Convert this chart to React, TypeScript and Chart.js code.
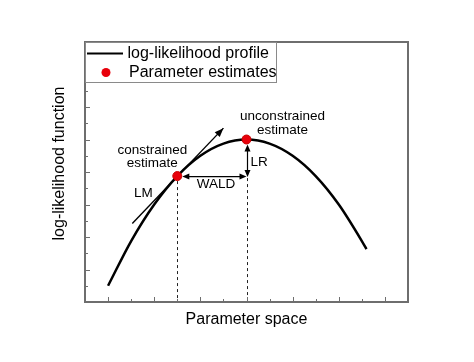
import React, { useEffect, useRef } from "react";
import { Chart, registerables } from "chart.js";
Chart.register(...registerables);

// ---- data ----
const paramX = [0, 1, 2, 3, 4, 5, 6, 7, 8, 9, 10, 11, 11.2];
const logLik = [1.0, 3.75, 6.0, 7.75, 9.0, 9.75, 10.0, 9.75, 9.0, 7.75, 6.0, 3.75, 3.25];
const estimateX = [3, 6];
const estimateY = [7.75, 10.0];
const tangentX = [1.05, 5.0];
const tangentY = [4.83, 10.7];
const xRange = [-1, 13];
const yRange = [0, 16];
const legendLabels = ["log-likelihood profile", "Parameter estimates"];
const xTitle = "Parameter space";
const yTitle = "log-likelihood function";
const labelConstrained = ["constrained", "estimate"];
const labelUnconstrained = ["unconstrained", "estimate"];
const labelLM = "LM";
const labelWald = "WALD";
const labelLR = "LR";

const FONT = "'Liberation Sans', Arial, Helvetica, sans-serif";
const AXIS_COLOR = "#6e6e6e";
const RED = "#e8000b";

function arrowHead(ctx: CanvasRenderingContext2D, tx: number, ty: number, angle: number, len: number, hw: number) {
  ctx.save();
  ctx.translate(tx, ty);
  ctx.rotate(angle);
  ctx.beginPath();
  ctx.moveTo(0, 0);
  ctx.lineTo(-len, -hw);
  ctx.lineTo(-len, hw);
  ctx.closePath();
  ctx.fill();
  ctx.restore();
}

const overlay = {
  id: "overlay",
  beforeDatasetsDraw(chart: any) {
    const { ctx, scales, chartArea: a } = chart;
    const x = scales.x, y = scales.y;
    const px = (v: number) => x.getPixelForValue(v);
    const py = (v: number) => y.getPixelForValue(v);
    ctx.save();
    // dashed drop lines
    ctx.strokeStyle = "#222";
    ctx.lineWidth = 1;
    ctx.setLineDash([3, 3]);
    const X0 = Math.round(px(estimateX[0])) + 0.5;
    ctx.beginPath();
    ctx.moveTo(X0, py(estimateY[0]) + 5);
    ctx.lineTo(X0, a.bottom);
    ctx.stroke();
    const X1 = Math.round(px(estimateX[1])) + 0.5;
    ctx.beginPath();
    ctx.moveTo(X1, py(estimateY[0]) + 2);
    ctx.lineTo(X1, a.bottom);
    ctx.stroke();
    ctx.setLineDash([]);
    ctx.restore();
  },
  afterDatasetsDraw(chart: any) {
    const { ctx, scales } = chart;
    const x = scales.x, y = scales.y;
    const px = (v: number) => x.getPixelForValue(v);
    const py = (v: number) => y.getPixelForValue(v);
    ctx.save();
    ctx.strokeStyle = "#000";
    ctx.fillStyle = "#000";
    ctx.lineWidth = 1.2;

    // WALD double arrow
    const wy = py(estimateY[0]) + 0.5;
    const wx0 = px(estimateX[0]) + 5;
    const wx1 = px(estimateX[1]);
    ctx.beginPath();
    ctx.moveTo(wx0 + 4, wy);
    ctx.lineTo(wx1 - 4, wy);
    ctx.stroke();
    arrowHead(ctx, wx0, wy, Math.PI, 7, 3);
    arrowHead(ctx, wx1, wy, 0, 7, 3);

    // LR double arrow
    const lx = Math.round(px(estimateX[1])) + 0.5;
    const ly0 = py(estimateY[1]) + 5;
    const ly1 = py(estimateY[0]) + 1;
    ctx.beginPath();
    ctx.moveTo(lx, ly0 + 4);
    ctx.lineTo(lx, ly1 - 4);
    ctx.stroke();
    arrowHead(ctx, lx, ly0, -Math.PI / 2, 7, 3);
    arrowHead(ctx, lx, ly1, Math.PI / 2, 7, 3);

    // tangent arrow head
    const tx0 = px(tangentX[0]), ty0 = py(tangentY[0]);
    const tx1 = px(tangentX[1]), ty1 = py(tangentY[1]);
    arrowHead(ctx, tx1, ty1, Math.atan2(ty1 - ty0, tx1 - tx0), 9, 3.5);

    // labels
    ctx.font = `13.5px ${FONT}`;
    ctx.textAlign = "center";
    ctx.textBaseline = "middle";
    const cx = px(estimateX[0]), cy = py(estimateY[0]);
    ctx.fillText(labelConstrained[0], cx - 25, cy - 26);
    ctx.fillText(labelConstrained[1], cx - 25, cy - 13);
    const ux = px(estimateX[1]), uy = py(estimateY[1]);
    ctx.fillText(labelUnconstrained[0], ux + 36, uy - 23);
    ctx.fillText(labelUnconstrained[1], ux + 36, uy - 9.5);
    ctx.fillText(labelLM, cx - 34, cy + 17);
    ctx.fillText(labelWald, (cx + ux) / 2 + 4, cy + 8);
    ctx.textAlign = "left";
    ctx.fillText(labelLR, ux + 4, cy - 13.5);
    ctx.restore();
  },
  afterDraw(chart: any) {
    const { ctx, scales, chartArea: a } = chart;
    const x = scales.x, y = scales.y;
    ctx.save();
    // ticks (inward)
    ctx.strokeStyle = AXIS_COLOR;
    ctx.lineWidth = 1;
    x.ticks.forEach((t: any) => {
      if (t.value <= xRange[0] || t.value >= xRange[1]) return;
      const X = Math.round(x.getPixelForValue(t.value)) + 0.5;
      const len = t.value % 2 === 0 ? 5 : 3;
      ctx.beginPath();
      ctx.moveTo(X, a.bottom);
      ctx.lineTo(X, a.bottom - len);
      ctx.stroke();
    });
    y.ticks.forEach((t: any) => {
      if (t.value <= yRange[0] || t.value >= yRange[1]) return;
      const Y = Math.round(y.getPixelForValue(t.value)) + 0.5;
      const len = t.value % 2 === 0 ? 5 : 3;
      ctx.beginPath();
      ctx.moveTo(a.left, Y);
      ctx.lineTo(a.left + len, Y);
      ctx.stroke();
    });
    // frame
    ctx.lineWidth = 2;
    ctx.strokeRect(a.left, a.top, a.right - a.left, a.bottom - a.top);

    // y-axis title
    ctx.save();
    ctx.translate(a.left - 25, (a.top + a.bottom) / 2 - 8.5);
    ctx.rotate(-Math.PI / 2);
    ctx.fillStyle = "#000";
    ctx.font = `16px ${FONT}`;
    ctx.textAlign = "center";
    ctx.textBaseline = "middle";
    ctx.fillText(yTitle, 0, 0);
    ctx.restore();

    // legend
    const lx = a.left, ly = a.top;
    const lw = 192, lh = 41;
    ctx.fillStyle = "#fff";
    ctx.fillRect(lx, ly, lw, lh);
    ctx.strokeStyle = "#8a8a8a";
    ctx.lineWidth = 1;
    ctx.strokeRect(lx + 0.5, ly + 0.5, lw - 1, lh - 1);
    ctx.strokeStyle = "#000";
    ctx.lineWidth = 2.2;
    ctx.beginPath();
    ctx.moveTo(lx + 2, ly + 11.5);
    ctx.lineTo(lx + 38, ly + 11.5);
    ctx.stroke();
    ctx.fillStyle = RED;
    ctx.beginPath();
    ctx.arc(lx + 21, ly + 30.5, 4.5, 0, Math.PI * 2);
    ctx.fill();
    ctx.fillStyle = "#000";
    ctx.font = `16px ${FONT}`;
    ctx.textAlign = "left";
    ctx.textBaseline = "middle";
    ctx.fillText(legendLabels[0], lx + 42.5, ly + 11.5);
    ctx.fillText(legendLabels[1], lx + 44, ly + 30.5);
    ctx.restore();
  },
};

export default function App() {
  const ref = useRef<HTMLCanvasElement | null>(null);
  useEffect(() => {
    document.body.style.margin = "0";
    const canvas = ref.current!;
    const chart = new Chart(canvas, {
      type: "line",
      data: {
        datasets: [
          {
            label: legendLabels[1],
            data: estimateX.map((v, i) => ({ x: v, y: estimateY[i] })),
            showLine: false,
            pointRadius: 4.5,
            pointBackgroundColor: RED,
            pointBorderColor: "#c80000",
            pointBorderWidth: 1,
            order: 0,
          },
          {
            label: "tangent",
            data: tangentX.map((v, i) => ({ x: v, y: tangentY[i] })),
            borderColor: "#000",
            borderWidth: 1.4,
            pointRadius: 0,
            order: 2,
          },
          {
            label: legendLabels[0],
            data: paramX.map((v, i) => ({ x: v, y: logLik[i] })),
            borderColor: "#000",
            borderWidth: 2.5,
            pointRadius: 0,
            cubicInterpolationMode: "monotone",
            order: 1,
          },
        ],
      },
      options: {
        responsive: false,
        animation: false,
        layout: { padding: { left: 0, right: 66, top: 42, bottom: 0 } },
        plugins: { legend: { display: false }, tooltip: { enabled: false } },
        scales: {
          x: {
            type: "linear",
            min: xRange[0],
            max: xRange[1],
            ticks: { display: false, stepSize: 1 },
            grid: { display: false },
            border: { display: false },
            title: {
              display: true,
              text: xTitle,
              color: "#000",
              font: { family: FONT, size: 16 },
              padding: { top: 0, bottom: 33 },
            },
            afterFit(s: any) {
              s.height = 60;
            },
          },
          y: {
            type: "linear",
            min: yRange[0],
            max: yRange[1],
            ticks: { display: false, stepSize: 1 },
            grid: { display: false },
            border: { display: false },
            title: { display: false, text: yTitle },
            afterFit(s: any) {
              s.width = 85;
            },
          },
        },
      } as any,
      plugins: [overlay],
    });
    return () => chart.destroy();
  }, []);
  return <canvas ref={ref} width={474} height={362} style={{ display: "block" }} />;
}
